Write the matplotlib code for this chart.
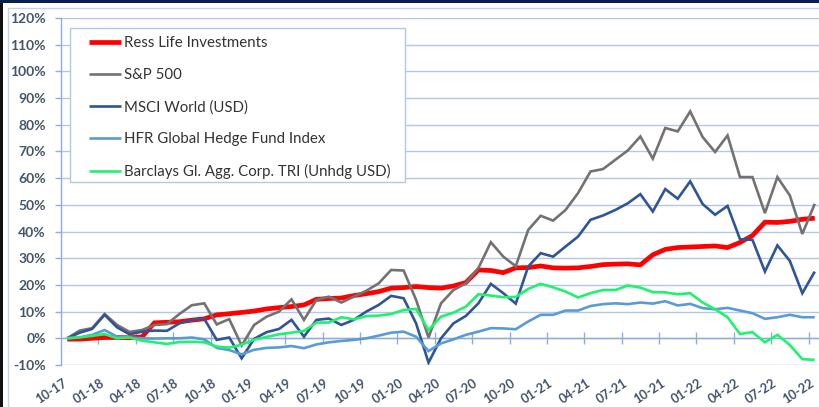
import matplotlib
matplotlib.use("Agg")
import matplotlib.pyplot as plt
from matplotlib.lines import Line2D
from matplotlib.patches import Rectangle

plt.rcParams["font.family"] = ["Lato", "DejaVu Sans"]

# ── Data: cumulative return (%) month-end, 10-17 .. 10-22 ──────────────────────
months = [f"{m:02d}-{y:02d}" for y in range(17, 23) for m in range(1, 13)][9:9 + 61]

ress = [-0.3, -0.3, 0.0, 0.3, 0.3, 0.2, 0.5, 5.8, 6.0, 6.2, 6.8, 7.3,
        8.8, 9.2, 9.7, 10.2, 11.0, 11.5, 11.9, 12.5, 14.6, 14.9, 15.1, 16.0,
        16.7, 17.5, 18.8, 19.0, 19.4, 19.0, 18.8, 19.6, 20.9, 25.6, 25.4, 24.6,
        26.4, 26.5, 27.1, 26.4, 26.3, 26.4, 26.9, 27.6, 27.8, 27.9, 27.5, 31.3,
        33.3, 34.0, 34.2, 34.4, 34.6, 34.0, 35.9, 38.5, 43.5, 43.4, 43.8, 44.6, 45.0]
sp500 = [0.0, 2.9, 3.8, 9.1, 5.0, 2.4, 3.1, 5.0, 5.3, 9.1, 12.4, 13.1,
         5.2, 7.2, -2.7, 5.0, 8.1, 10.0, 14.6, 6.9, 14.4, 15.6, 13.4, 15.6,
         17.8, 20.6, 25.6, 25.4, 14.4, 0.3, 13.1, 18.1, 20.6, 26.3, 36.0, 30.6,
         27.0, 40.6, 45.9, 44.1, 48.1, 54.4, 62.5, 63.4, 66.9, 70.4, 75.6, 67.3,
         78.8, 77.5, 85.0, 75.4, 69.8, 76.0, 60.4, 60.4, 46.9, 60.4, 53.5, 39.1, 50.4]
msci = [0.0, 2.1, 3.5, 8.8, 4.1, 1.5, 2.5, 2.9, 2.8, 5.6, 6.9, 7.3,
        -0.6, 0.3, -7.5, -0.2, 2.3, 3.5, 6.9, 0.6, 6.9, 7.4, 5.0, 6.9,
        10.0, 12.5, 15.9, 15.0, 5.6, -9.1, 0.0, 5.6, 8.4, 13.1, 20.4, 16.9,
        13.0, 26.9, 31.9, 30.6, 34.4, 38.1, 44.4, 46.0, 48.1, 50.6, 54.0, 47.5,
        55.9, 52.3, 58.8, 50.3, 46.3, 49.6, 37.1, 36.9, 25.0, 34.8, 29.0, 16.9, 25.0]
hfr = [0.0, 0.3, 1.3, 3.1, 0.6, 0.3, 0.0, -0.1, 0.0, 0.0, 0.3, -0.4,
       -3.6, -4.4, -6.0, -4.3, -3.6, -3.4, -2.9, -3.7, -2.3, -1.5, -1.0, -0.6,
       0.0, 1.0, 2.1, 2.5, 0.6, -4.8, -1.9, -0.4, 1.3, 2.5, 3.8, 3.7,
       3.4, 6.3, 8.8, 8.8, 10.4, 10.4, 12.1, 12.8, 13.1, 12.8, 13.4, 13.0,
       13.9, 12.3, 12.9, 11.3, 10.9, 11.4, 10.4, 9.4, 7.3, 7.9, 8.8, 7.9, 7.9]
barclays = [0.0, 0.4, 0.9, 1.6, 0.0, 0.3, -0.9, -1.5, -2.1, -1.4, -1.3, -1.5,
            -3.1, -3.5, -2.4, -0.5, 0.5, 1.5, 2.1, 2.8, 5.9, 5.9, 7.9, 7.1,
            8.3, 8.5, 9.1, 10.6, 11.0, 3.1, 8.1, 9.6, 11.9, 16.5, 16.0, 15.4,
            15.5, 18.5, 20.4, 19.1, 17.5, 15.3, 16.9, 18.1, 18.1, 19.8, 19.0, 17.3,
            17.2, 16.5, 16.9, 13.4, 10.9, 7.9, 1.6, 2.3, -1.5, 1.3, -2.5, -7.8, -8.1]

series = [
    ("Ress Life Investments", ress, "#FF0000", 3.4),
    ("S&P 500", sp500, "#767171", 1.9),
    ("MSCI World (USD)", msci, "#2F5597", 1.9),
    ("HFR Global Hedge Fund Index", hfr, "#5B9BD5", 1.9),
    ("Barclays Gl. Agg. Corp. TRI (Unhdg USD)", barclays, "#1EF26E", 1.9),
]

TXT = "#44546A"
GRID = "#B4C7E7"
AXIS = "#8FAADC"

W, H = 819, 407
fig = plt.figure(figsize=(W / 100, H / 100), dpi=100)
fig.patch.set_facecolor("white")

# axes placed in pixel terms: x -0.5..60.5 spans 61..821 px, y -10..120 spans 365..18 px
ax = fig.add_axes([61 / W, (H - 365) / H, 760 / W, 347 / H])
x = list(range(len(months)))

for name, vals, col, lw in series:
    ax.plot(x, vals, color=col, lw=lw, label=name, solid_joinstyle="miter",
            solid_capstyle="butt", zorder=3)

ax.set_xlim(-0.5, len(months) - 0.5)
ax.set_ylim(-10, 120)
ax.set_yticks(range(-10, 121, 10))
ax.set_yticklabels([f"{v}%" for v in range(-10, 121, 10)])
ax.yaxis.grid(True, color=GRID, lw=1.0)
ax.set_axisbelow(True)

for s in ("top", "right"):
    ax.spines[s].set_visible(False)
ax.spines["left"].set_color(AXIS)
ax.spines["left"].set_linewidth(1.0)
# category axis line crosses at 0%
ax.spines["bottom"].set_position(("data", 0))
ax.spines["bottom"].set_color(AXIS)
ax.spines["bottom"].set_linewidth(1.0)

ax.tick_params(axis="y", length=4, width=1.0, color=AXIS, pad=7,
               labelsize=10, labelcolor=TXT)
for t in ax.get_yticklabels():
    t.set_fontweight("bold")

# tick marks between categories every 3 months, crossing the 0% line
ax.set_xticks([i - 0.5 for i in x[3::3]])
ax.set_xticklabels([])
ax.tick_params(axis="x", direction="inout", length=8, width=1.0, color=AXIS)

# category labels, low position, rotated
for i in x[::3]:
    ax.text(i - 0.4, -0.033, months[i], transform=ax.get_xaxis_transform(),
            rotation=33, ha="right", va="top", rotation_mode="anchor",
            fontsize=9.2, fontweight="bold", color=TXT)

# legend with its own square frame
leg = fig.legend(loc="upper left", bbox_to_anchor=(89 / W, (H - 36) / H),
                 frameon=False, fontsize=10.8, handlelength=2.15, handletextpad=0.2,
                 labelspacing=1.2, borderpad=0, borderaxespad=0)
for t in leg.get_texts():
    t.set_color("#333333")
fig.add_artist(Rectangle((70 / W, (H - 182) / H), 335 / W, 154 / H,
                         transform=fig.transFigure, fill=True, fc="white",
                         ec=GRID, lw=1.0, zorder=1))
leg.set_zorder(5)

# outer chart-area border and frame edges
fig.add_artist(Line2D([8 / W, 1], [1 - 8 / H, 1 - 8 / H], color="#C5D3EA", lw=1.0))
fig.add_artist(Line2D([8 / W, 8 / W], [0, 1 - 8 / H], color="#C5D3EA", lw=1.0))
fig.add_artist(Rectangle((0, 1 - 2.5 / H), 1, 2.5 / H, transform=fig.transFigure,
                         fc="#0B1F4F", ec="none"))
fig.add_artist(Rectangle((0, 0), 2.5 / W, 1 - 2.5 / H, transform=fig.transFigure,
                         fc="#111111", ec="none"))

fig.savefig("out.png", dpi=100)
